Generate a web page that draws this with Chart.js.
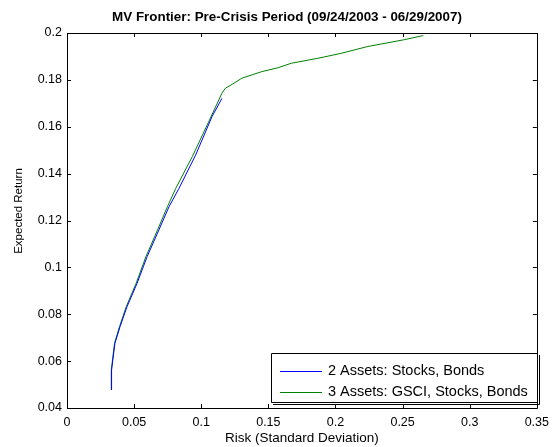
<!DOCTYPE html>
<html>
<head>
<meta charset="utf-8">
<script src="https://cdn.jsdelivr.net/npm/chart.js@4"></script>
<style>
  html, body { margin: 0; padding: 0; background: #fff; }
  #wrap { width: 556px; height: 447px; }
</style>
</head>
<body>
<div id="wrap"><canvas id="chart"></canvas></div>
<script>
// values
const chartTitle = "MV Frontier: Pre-Crisis Period (09/24/2003 - 06/29/2007)";
const xTitle = "Risk (Standard Deviation)";
const yTitle = "Expected Return";

const xTicks = [0, 0.05, 0.1, 0.15, 0.2, 0.25, 0.3, 0.35];
const yTicks = [0.04, 0.06, 0.08, 0.1, 0.12, 0.14, 0.16, 0.18, 0.2];

const twoAssetLabel = "2 Assets: Stocks, Bonds";
const twoAssetRisk = [0.0332, 0.0332, 0.0357, 0.0395, 0.0447, 0.0522, 0.0597, 0.0684, 0.0760, 0.0834, 0.0958, 0.1080, 0.1154];
const twoAssetRet  = [0.0477, 0.0562, 0.0676, 0.0747, 0.0832, 0.0932, 0.1046, 0.1159, 0.1259, 0.1337, 0.1479, 0.1643, 0.1721];

const threeAssetLabel = "3 Assets: GSCI, Stocks, Bonds";
const threeAssetRisk = [0.0330, 0.0330, 0.0354, 0.0391, 0.0441, 0.0515, 0.0588, 0.0674, 0.0748, 0.0810, 0.0933, 0.1056, 0.1154, 0.1179,
                        0.1233, 0.1302, 0.1450, 0.1573, 0.1671, 0.1868, 0.2040, 0.2237, 0.2508, 0.2654];
const threeAssetRet  = [0.0477, 0.0562, 0.0676, 0.0747, 0.0832, 0.0932, 0.1046, 0.1159, 0.1259, 0.1337, 0.1472, 0.1622, 0.1743, 0.1764,
                        0.1782, 0.1807, 0.1835, 0.1852, 0.1871, 0.1892, 0.1913, 0.1942, 0.1971, 0.1989];

const toPoints = (xs, ys) => xs.map((x, i) => ({ x: x, y: ys[i] }));
const fmt = v => String(parseFloat(v.toFixed(2)));
const FONT = "Arial, 'Liberation Sans', Helvetica, sans-serif";

// MATLAB style box, inward ticks, title, y label and legend inside the axes
const matlabFrame = {
    id: "matlabFrame",
    afterDraw(chart) {
        const ctx = chart.ctx;
        const a = chart.chartArea;
        const xs = chart.scales.x, ys = chart.scales.y;
        ctx.save();
        ctx.strokeStyle = "#000";
        ctx.lineWidth = 1;
        ctx.beginPath();
        ctx.rect(Math.round(a.left) + 0.5, Math.round(a.top) + 0.5, Math.round(a.right - a.left), Math.round(a.bottom - a.top));
        ctx.stroke();
        ctx.beginPath();
        xTicks.forEach(v => {
            const px = Math.round(xs.getPixelForValue(v)) + 0.5;
            ctx.moveTo(px, a.bottom); ctx.lineTo(px, a.bottom - 4);
            ctx.moveTo(px, a.top); ctx.lineTo(px, a.top + 4);
        });
        yTicks.forEach(v => {
            const py = Math.round(ys.getPixelForValue(v)) + 0.5;
            ctx.moveTo(a.left, py); ctx.lineTo(a.left + 4, py);
            ctx.moveTo(a.right, py); ctx.lineTo(a.right - 4, py);
        });
        ctx.stroke();

        // title
        ctx.fillStyle = "#000";
        ctx.font = "bold 13.4px " + FONT;
        ctx.textAlign = "center";
        ctx.textBaseline = "middle";
        ctx.fillText(chartTitle, 287, 17);

        // y label
        ctx.save();
        ctx.translate(19, 211);
        ctx.rotate(-Math.PI / 2);
        ctx.font = "11.5px " + FONT;
        ctx.fillText(yTitle, 0, 0);
        ctx.restore();

        // legend box
        const lx = 271, ly = 353, lw = 266, lh = 49;
        ctx.fillStyle = "#fff";
        ctx.fillRect(lx, ly, lw, lh);
        ctx.beginPath();
        ctx.rect(lx + 0.5, ly + 0.5, lw, lh);
        ctx.stroke();
        ctx.beginPath();
        ctx.moveTo(lx + lw + 2.5, ly + 2); ctx.lineTo(lx + lw + 2.5, ly + lh + 2.5); ctx.lineTo(lx + 2, ly + lh + 2.5);
        ctx.stroke();
        ctx.font = "14.5px " + FONT;
        ctx.textAlign = "left";
        chart.data.datasets.forEach((ds, i) => {
            const y = 370.5 + i * 21.5;
            ctx.strokeStyle = ds.borderColor;
            ctx.beginPath();
            ctx.moveTo(280, Math.round(y) + 0.5); ctx.lineTo(322, Math.round(y) + 0.5);
            ctx.stroke();
            ctx.fillStyle = "#000";
            ctx.fillText(ds.label, 328, y);
        });
        ctx.restore();
    }
};

new Chart(document.getElementById("chart"), {
    type: "scatter",
    data: {
        datasets: [
            { label: twoAssetLabel, data: toPoints(twoAssetRisk, twoAssetRet), borderColor: "#0000ff", backgroundColor: "#0000ff",
              showLine: true, pointRadius: 0, borderWidth: 1, tension: 0 },
            { label: threeAssetLabel, data: toPoints(threeAssetRisk, threeAssetRet), borderColor: "#008000", backgroundColor: "#008000",
              showLine: true, pointRadius: 0, borderWidth: 1, tension: 0 },
        ],
    },
    options: {
        responsive: true,
        maintainAspectRatio: false,
        animation: false,
        layout: { padding: { top: 33, right: 15, left: 0, bottom: 0 } },
        plugins: { legend: { display: false }, title: { display: false }, tooltip: { enabled: false } },
        scales: {
            x: {
                type: "linear", min: 0, max: 0.35,
                afterBuildTicks: s => { s.ticks = xTicks.map(v => ({ value: v })); },
                afterFit: s => { s.height = 39; },
                grid: { display: false, drawTicks: false },
                border: { display: false },
                ticks: { color: "#000", padding: 7, maxRotation: 0, autoSkip: false, font: { family: FONT, size: 12.5 }, callback: v => fmt(v) },
                title: { display: true, text: xTitle, color: "#000", font: { family: FONT, size: 13.5 }, padding: { top: 0, bottom: 1 } },
            },
            y: {
                type: "linear", min: 0.04, max: 0.2,
                afterBuildTicks: s => { s.ticks = yTicks.map(v => ({ value: v })); },
                afterFit: s => { s.width = 67; },
                grid: { display: false, drawTicks: false },
                border: { display: false },
                ticks: { color: "#000", padding: 5, autoSkip: false, font: { family: FONT, size: 12.5 }, callback: v => fmt(v) },
                title: { display: false },
            },
        },
    },
    plugins: [matlabFrame],
});
</script>
</body>
</html>
